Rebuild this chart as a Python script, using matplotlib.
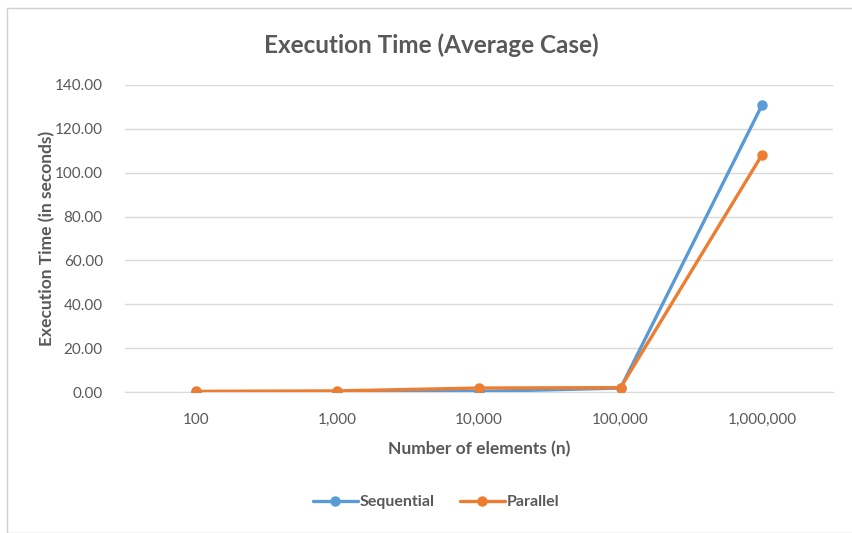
import matplotlib
matplotlib.use("Agg")
import matplotlib.pyplot as plt
from matplotlib.patches import Rectangle

categories = ["100", "1,000", "10,000", "100,000", "1,000,000"]
sequential = [0.01, 0.05, 0.2, 1.8, 131.0]
parallel = [0.3, 0.5, 1.8, 2.0, 108.3]
yticks = [0, 20, 40, 60, 80, 100, 120, 140]

plt.rcParams['font.family'] = ['Lato', 'DejaVu Sans']
grey = "#595959"

fig = plt.figure(figsize=(8.53, 5.33), dpi=100)
fig.patches.append(Rectangle((7/853, 0), 1, 1 - 8/533, transform=fig.transFigure,
                             fill=False, edgecolor="#d0d0d0", linewidth=1))
ax = fig.add_axes([125/853, 1 - 392/533, 708/853, 307/533])

x = list(range(len(categories)))
ax.plot(x, sequential, color="#5B9BD5", linewidth=2.4, marker="o", markersize=6.5,
        label="Sequential", solid_capstyle="round", zorder=3)
ax.plot(x, parallel, color="#ED7D31", linewidth=2.4, marker="o", markersize=6.5,
        label="Parallel", solid_capstyle="round", zorder=4)

ax.set_xlim(-0.5, len(categories) - 0.5)
ax.set_ylim(0, 140)
ax.set_xticks(x)
ax.set_xticklabels(categories)
ax.set_yticks(yticks)
ax.set_yticklabels([f"{v:.2f}" for v in yticks])
ax.grid(axis="y", color="#d9d9d9", linewidth=1)
ax.set_axisbelow(True)
for s in ["top", "right", "left"]:
    ax.spines[s].set_visible(False)
ax.spines["bottom"].set_color("#d9d9d9")
ax.tick_params(axis="both", length=0, colors=grey, labelsize=11)
ax.tick_params(axis="x", pad=15)
ax.tick_params(axis="y", pad=16)

ax.set_xlabel("Number of elements (n)", fontsize=12.5, fontweight="bold", color=grey, labelpad=10)
ax.set_ylabel("Execution Time (in seconds)", fontsize=12.5, fontweight="bold", color=grey, labelpad=0)
fig.text(431/853, 1 - 45/533, "Execution Time (Average Case)", ha="center", va="center",
         fontsize=17.5, fontweight="bold", color=grey)

leg = fig.legend(loc="center", bbox_to_anchor=(436/853, 1 - 502/533), ncol=2, frameon=False,
                 fontsize=11.5, handlelength=2.8, handletextpad=0.1, columnspacing=1.6)
for t in leg.get_texts():
    t.set_color(grey)
    t.set_fontweight("bold")

fig.savefig("out.png", dpi=100)
